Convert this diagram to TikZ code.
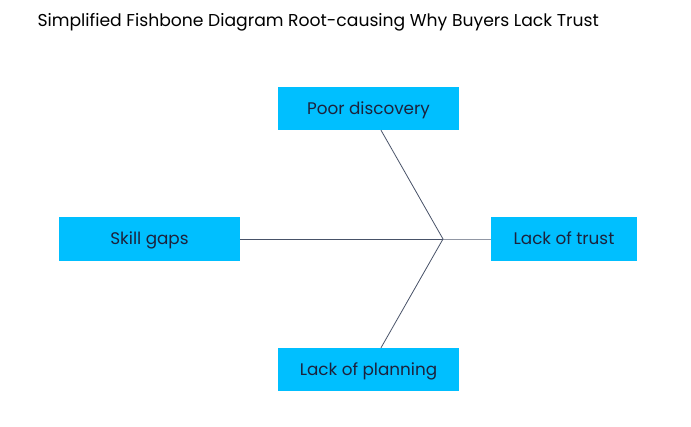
\documentclass[tikz,border=0pt]{standalone}
\usepackage{fontspec}
\setmainfont{Poppins}
\usetikzlibrary{calc}
\definecolor{boxblue}{RGB}{0,191,255}
\definecolor{inkblue}{RGB}{28,34,60}
\definecolor{bonegray}{RGB}{72,82,104}
\begin{document}
\begin{tikzpicture}[x=1pt, y=-1pt]
    % Fix the page to the reference size
    \useasboundingbox (0,0) rectangle (691,427);

    % Styles for the cause boxes and the bones
    \tikzset{
        causebox/.style={fill=boxblue, draw=none, text=inkblue, minimum height=43pt,
            minimum width=181pt, inner sep=0pt, text height=16pt, text depth=4pt,
            font=\fontsize{16.8}{20}\selectfont},
        bone/.style={draw=bonegray, line width=0.8pt}
    }

    % Title
    \node[anchor=west, font=\fontsize{17.2}{20}\selectfont] (title) at (34,22)
        {Simplified Fishbone Diagram Root-causing Why Buyers Lack Trust};

    % Cause and effect boxes
    \node[causebox] (poor) at (368.5,108.5) {Poor discovery};
    \node[causebox, minimum height=44pt] (skill) at (149.5,239) {Skill gaps};
    \node[causebox, minimum height=44pt, minimum width=146pt] (trust) at (564,239) {Lack of trust};
    \node[causebox] (plan) at (368.5,369.5) {Lack of planning};

    % Where the bones meet
    \coordinate (joint) at (443,239);

    % Spine and bones
    \draw[bone] (skill.east) -- (joint);
    \draw[bone, draw=bonegray!60] (joint) -- (trust.west);
    \draw[bone] ([xshift=12.5pt]poor.south) -- (joint);
    \draw[bone] ([xshift=12.5pt]plan.north) -- (joint);

\end{tikzpicture}
\end{document}
